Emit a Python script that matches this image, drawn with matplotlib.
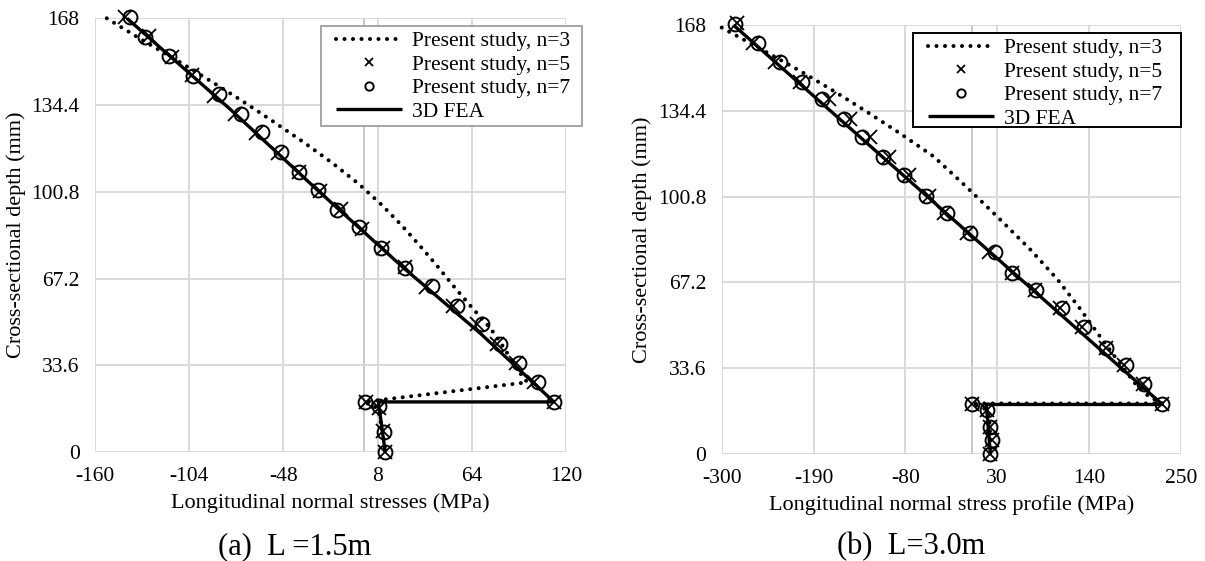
import matplotlib
matplotlib.use('Agg')
import matplotlib.pyplot as plt
from matplotlib.patches import Rectangle

plt.rcParams['font.family'] = ['Liberation Serif', 'DejaVu Serif']

# ---------------- data: (a) L = 1.5 m ----------------
a_n3_x = [-153, -133, -112, -92, -72.5, -54, -36, -19, -3.5, 10, 22, 33, 43.5, 53.5,
          64, 75, 83.5, 91, 97, 0, 8, 11, 12.6]
a_n3_y = [168, 160, 152, 144, 136, 128, 120, 112, 104, 96, 88, 80, 72, 64,
          56, 48, 40, 32, 27, 19.4, 17, 8, 0]
a_n5_x = [-142, -128, -114.5, -102.5, -89, -77, -64.5, -51.5, -39, -26, -14, -1.5, 11.5,
          24, 37, 53, 67, 79, 90, 101, 112.8, 1, 9, 11, 12.5]
a_n5_y = [168.5, 161, 153, 146, 138, 131, 123.5, 116, 108.5, 101, 94, 86.5, 79,
          71.5, 64, 56.5, 49.5, 41.8, 34.3, 27.1, 19.4, 19.4, 17, 8, 0]
a_n7_x = [-139, -130, -116, -101.5, -86, -73, -61, -49.5, -38.5, -27.5, -16, -3, 10,
          24.5, 40.5, 55, 70, 81, 92, 103.3, 112.8, 0.7, 8.6, 11.6, 12.6]
a_n7_y = [168.5, 160.6, 153.4, 145.6, 138.5, 130.9, 124, 116.3, 108.5, 101.4, 93.7, 87, 78.9,
          71.1, 64.2, 56.5, 49.5, 41.8, 34.3, 27.1, 19.4, 19.4, 18, 7.8, 0]
a_fea_x = [-141, -80, -27, 24, 69, 112.8, 8.5, 12.5]
a_fea_y = [168, 133, 101, 71, 46, 19.4, 19.4, 0]

# ---------------- data: (b) L = 3.0 m ----------------
b_n3_x = [-300, -250, -206, -165, -126, -86, -46, -8, 30, 70, 102, 128, 150, 168, 184,
          198, 212, 228, 0, 20, 23]
b_n3_y = [167, 158, 150, 142, 134, 125.5, 116.5, 105, 93, 80, 68.5, 57.5, 47.5, 39.5, 32.5,
          26.5, 22.5, 19.8, 19.8, 17, 0]
b_n5_x = [-282, -262, -236, -206, -172, -146, -122, -99, -76, -52, -34, -6, 20, 48, 75,
          105, 132, 160, 182, 205, 228, 0, 18, 22, 24, 22]
b_n5_y = [168.6, 160.8, 153.6, 145.8, 138.9, 131.2, 124.3, 116.5, 109.3, 101, 94.3, 86.4,
          79.2, 71, 64.2, 57.1, 49.6, 41.4, 34.9, 27.4, 19.4, 19.4, 17.3, 10.7, 5.5, 0]
b_n7_x = [-284, -256, -230, -204, -180, -154, -132, -107, -82, -55, -30, -2, 28, 48, 77,
          108, 134, 160, 184, 206, 228, 0, 18, 22, 24, 22]
b_n7_y = [168.4, 160.8, 153.6, 145.8, 138.9, 131.2, 124.3, 116.5, 109.3, 101, 94.3, 86.4,
          79.2, 71, 64.2, 57.1, 49.6, 41.4, 34.9, 27.4, 19.4, 19.4, 17.3, 10.7, 5.5, 0]
b_fea_x = [-286, -30, 228, 17, 22]
b_fea_y = [168, 94, 19.4, 19.4, 0]

a_xticks = [-160, -104, -48, 8, 64, 120]
b_xticks = [-300, -190, -80, 30, 140, 250]
yticks = [0, 33.6, 67.2, 100.8, 134.4, 168]
ytick_labels = ['0', '33.6', '67.2', '100.8', '134.4', '168']

labels = ['Present study, n=3', 'Present study, n=5', 'Present study, n=7', '3D FEA']

W, H = 1205, 561
fig = plt.figure(figsize=(W / 100, H / 100), dpi=100)
axA = fig.add_axes([95 / W, 1 - 452 / H, 471 / W, (452 - 18.3) / H])
axB = fig.add_axes([721.7 / W, 1 - 454 / H, 459 / W, (454 - 25) / H])


def draw(ax, n3x, n3y, n5x, n5y, n7x, n7y, fx, fy, xticks, xlabel):
    ax.set_xlim(xticks[0], xticks[-1])
    ax.set_ylim(0, 168)
    ax.set_xticks(xticks)
    ax.set_xticklabels([str(t) for t in xticks])
    ax.set_yticks(yticks)
    ax.set_yticklabels(ytick_labels)
    ax.grid(True, color='#d9d9d9', lw=1.4, zorder=0)
    ax.set_axisbelow(True)
    for s in ax.spines.values():
        s.set_visible(False)
    ax.axvline(0, color='#c8c8c8', lw=1.4, zorder=0.5)
    ax.axhline(0, color='#c8c8c8', lw=1.4, zorder=0.5)
    ax.tick_params(length=0, labelsize=15.5, pad=11)
    h3, = ax.plot(n3x, n3y, color='black', lw=2.9, linestyle=(0, (0.01, 2.1)),
                  dash_capstyle='round', clip_on=False, zorder=3)
    h5, = ax.plot(n5x, n5y, linestyle='none', marker='x', ms=10, mew=1.3,
                  color='black', clip_on=False, zorder=4)
    h7, = ax.plot(n7x, n7y, linestyle='none', marker='o', ms=10, mew=1.4,
                  mfc='none', mec='black', clip_on=False, zorder=5)
    hf, = ax.plot(fx, fy, color='black', lw=2.4, solid_capstyle='butt',
                  clip_on=False, zorder=6)
    ax.set_xlabel(xlabel, fontsize=16, labelpad=5)
    ax.set_ylabel('Cross-sectional depth (mm)', fontsize=16, labelpad=4)
    return [h3, h5, h7, hf]


hA = draw(axA, a_n3_x, a_n3_y, a_n5_x, a_n5_y, a_n7_x, a_n7_y, a_fea_x, a_fea_y,
          a_xticks, 'Longitudinal normal stresses (MPa)')
hB = draw(axB, b_n3_x, b_n3_y, b_n5_x, b_n5_y, b_n7_x, b_n7_y, b_fea_x, b_fea_y,
          b_xticks, 'Longitudinal normal stress profile (MPa)')


def legend_box(handles, x0, y0, x1, y1, edge):
    fig.patches.append(Rectangle((x0 / W, 1 - y1 / H), (x1 - x0) / W, (y1 - y0) / H,
                                 transform=fig.transFigure, facecolor='white',
                                 edgecolor=edge, lw=1.4, zorder=10))
    leg = fig.legend(handles, labels, loc='upper left',
                     bbox_to_anchor=((x0 + 15) / W, 1 - (y0 + 5) / H),
                     bbox_transform=fig.transFigure, fontsize=15.5, frameon=False,
                     handlelength=3.05, handletextpad=0.5, borderpad=0,
                     labelspacing=0.16, markerscale=0.6, borderaxespad=0)
    leg.set_zorder(11)
    return leg


legend_box(hA, 321, 26, 582, 126, '#a6a6a6')
legend_box(hB, 913, 33, 1181, 127, 'black')

fig.text(295 / W, 1 - 547 / H, '(a)  L =1.5m', fontsize=22, ha='center', va='center')
fig.text(911 / W, 1 - 547 / H, '(b)  L=3.0m', fontsize=22, ha='center', va='center')

fig.savefig('out.png', dpi=100)
